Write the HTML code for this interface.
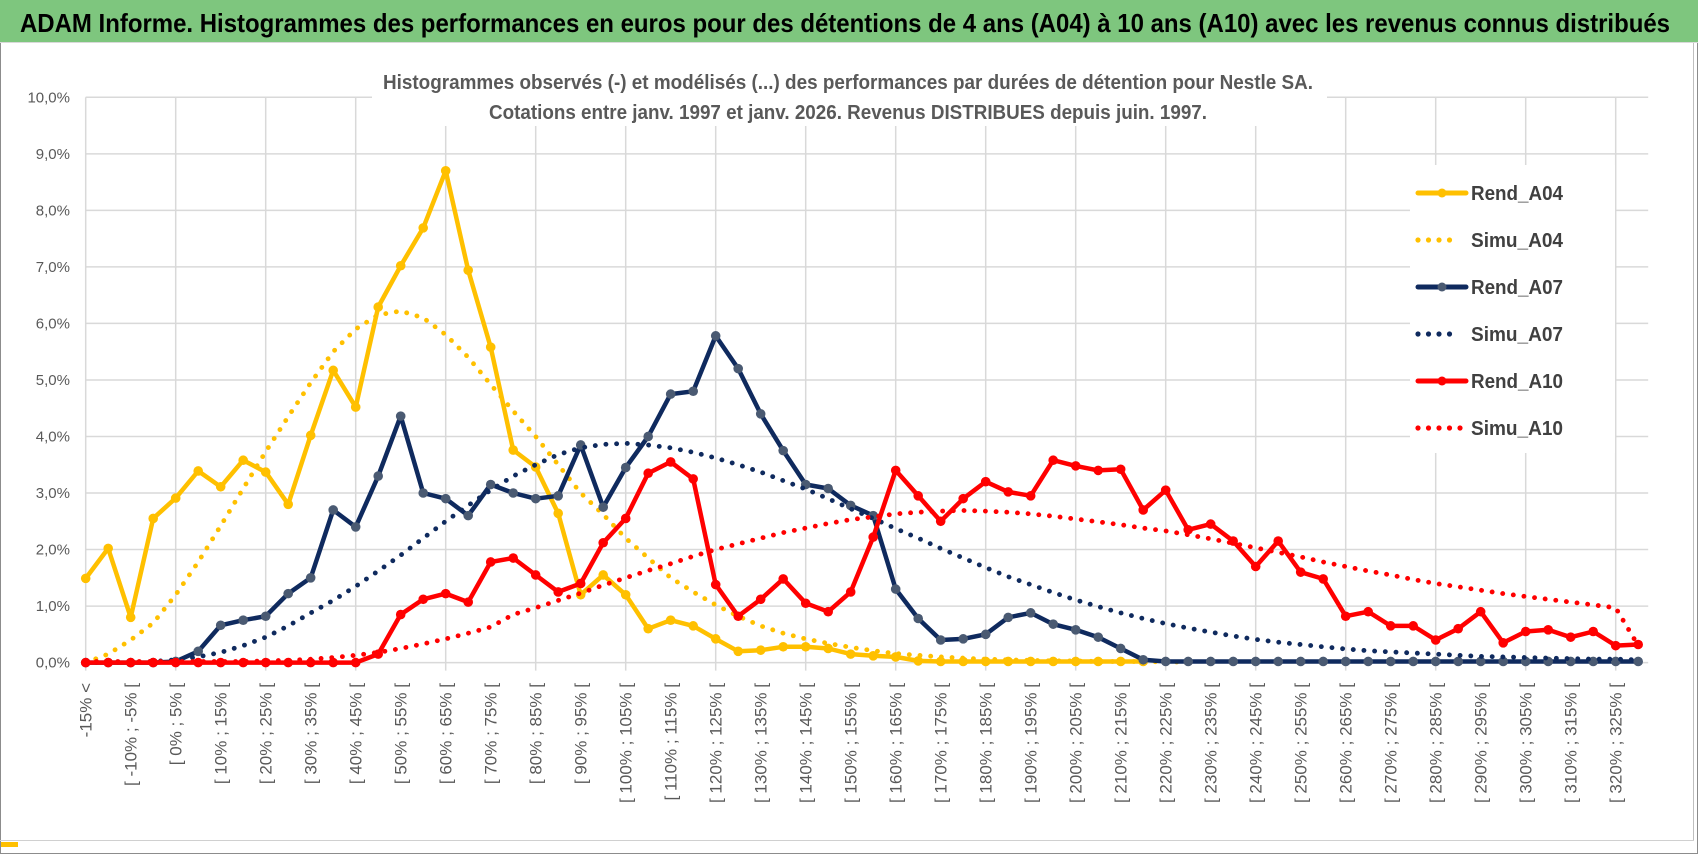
<!DOCTYPE html>
<html><head><meta charset="utf-8">
<style>
html,body{margin:0;padding:0;background:#fff;}
svg{display:block;font-family:"Liberation Sans",sans-serif;}
</style></head>
<body>
<svg id="chart" width="1698" height="854" viewBox="0 0 1698 854" xmlns="http://www.w3.org/2000/svg">
  <rect x="0" y="0" width="1698" height="854" fill="#fff"/>
  <rect x="0.5" y="0.5" width="1697" height="853" fill="none" stroke="#8c8c8c" stroke-width="1"/>
  <rect x="0" y="0" width="1698" height="42" fill="#7ec67e"/>
  <line x1="0" y1="42.5" x2="1698" y2="42.5" stroke="#d9d9d9"/>
  <text x="20" y="32" font-size="26" font-weight="bold" fill="#000" textLength="1650" lengthAdjust="spacingAndGlyphs">ADAM Informe. Histogrammes des performances en euros pour des détentions de 4 ans (A04) à 10 ans (A10) avec les revenus connus distribués</text>
  <line x1="1693.5" y1="43" x2="1693.5" y2="840" stroke="#bfbfbf"/>
  <line x1="0" y1="840.5" x2="1694" y2="840.5" stroke="#d0d0d0"/>
  <rect x="1" y="842" width="17" height="5" fill="#ffc000"/>
  <g id="grid"></g>
  <g id="yaxis"></g>
  <g id="xaxis"></g>
  <rect x="372" y="66" width="955" height="60" fill="#fff"/>
  <text x="848" y="89" font-size="20" font-weight="bold" fill="#595959" text-anchor="middle" textLength="930" lengthAdjust="spacingAndGlyphs">Histogrammes observés (-) et modélisés (...)  des performances par durées de détention pour Nestle SA.</text>
  <text x="848" y="119" font-size="20" font-weight="bold" fill="#595959" text-anchor="middle" textLength="718" lengthAdjust="spacingAndGlyphs">Cotations entre janv. 1997 et janv. 2026. Revenus DISTRIBUES depuis juin. 1997.</text>
  <g id="series"></g>
  <g id="legend"></g>
</svg>
<script>
const categories = ["-15% <"];
for (let a = -15; a < 330; a += 5) categories.push("[ " + a + "% ; " + (a + 5) + "% [");
const yTicks = [0,1,2,3,4,5,6,7,8,9,10];
const yTickLabels = ["0,0%","1,0%","2,0%","3,0%","4,0%","5,0%","6,0%","7,0%","8,0%","9,0%","10,0%"];
const rendA04 = [1.49,2.02,0.80,2.55,2.91,3.39,3.11,3.58,3.37,2.80,4.02,5.17,4.52,6.29,7.02,7.69,8.70,6.94,5.58,3.76,3.46,2.64,1.2,1.55,1.2,0.6,0.75,0.65,0.42,0.2,0.22,0.28,0.28,0.25,0.15,0.12,0.1,0.03,0.02,0.02,0.02,0.02,0.02,0.02,0.02,0.02,0.02,0.02,null,null,null,null,null,null,null,null,null,null,null,null,null,null,null,null,null,null,null,null,null,null];
const simuA04 = [0.0,0.15,0.4,0.7,1.2,1.78,2.42,3.08,3.73,4.35,4.95,5.5,5.9,6.15,6.22,6.1,5.8,5.4,4.92,4.45,4.0,3.5,3.0,2.62,2.2,1.85,1.5,1.25,1.02,0.82,0.65,0.52,0.42,0.34,0.27,0.21,0.16,0.13,0.1,0.08,0.06,0.05,0.04,0.03,0.03,0.02,0.02,0.02,0.01,0.01,null,null,null,null,null,null,null,null,null,null,null,null,null,null,null,null,null,null,null,null];
const rendA07 = [0,0,0,0,0.02,0.2,0.66,0.75,0.82,1.22,1.5,2.7,2.4,3.3,4.36,3.0,2.9,2.6,3.15,3.0,2.9,2.95,3.85,2.75,3.45,4.0,4.75,4.8,5.78,5.2,4.4,3.75,3.15,3.08,2.78,2.6,1.3,0.78,0.4,0.42,0.5,0.8,0.88,0.68,0.58,0.45,0.25,0.05,0.02,0.02,0.02,0.02,0.02,0.02,0.02,0.02,0.02,0.02,0.02,0.02,0.02,0.02,0.02,0.02,0.02,0.02,0.02,0.02,0.02,0.02];
const simuA07 = [0,0,0.01,0.02,0.05,0.1,0.18,0.3,0.45,0.65,0.88,1.1,1.35,1.62,1.9,2.2,2.5,2.78,3.05,3.3,3.5,3.68,3.8,3.86,3.88,3.85,3.8,3.72,3.62,3.5,3.37,3.22,3.07,2.9,2.72,2.55,2.37,2.2,2.02,1.85,1.68,1.52,1.38,1.24,1.11,0.99,0.88,0.78,0.69,0.61,0.54,0.47,0.41,0.36,0.32,0.28,0.24,0.21,0.19,0.17,0.15,0.13,0.11,0.1,0.09,0.08,0.07,0.06,0.06,0.05];
const rendA10 = [0,0,0,0,0,0,0,0,0,0,0,0,0,0.15,0.85,1.12,1.22,1.07,1.78,1.85,1.55,1.25,1.4,2.12,2.55,3.35,3.55,3.25,1.38,0.82,1.12,1.48,1.05,0.9,1.25,2.22,3.4,2.95,2.5,2.9,3.2,3.02,2.95,3.58,3.48,3.4,3.42,2.7,3.05,2.35,2.45,2.15,1.7,2.15,1.6,1.48,0.82,0.9,0.65,0.65,0.4,0.6,0.9,0.35,0.55,0.58,0.45,0.55,0.3,0.32];
const simuA10 = [0.02,0.02,0.02,0.02,0.02,0.02,0.02,0.02,0.03,0.04,0.06,0.09,0.13,0.18,0.25,0.33,0.42,0.52,0.63,0.85,0.97,1.1,1.23,1.37,1.5,1.63,1.75,1.88,2.0,2.1,2.2,2.3,2.38,2.46,2.53,2.58,2.63,2.66,2.68,2.69,2.68,2.66,2.63,2.59,2.54,2.49,2.44,2.38,2.33,2.26,2.19,2.11,2.03,1.95,1.87,1.78,1.7,1.62,1.55,1.47,1.4,1.34,1.28,1.22,1.17,1.12,1.07,1.02,0.97,0.3];

const NS = "http://www.w3.org/2000/svg";
const X0 = 85.7, DX = 22.5, Y0 = 662.6, DY = 56.53;
const xPos = i => X0 + i * DX;
const yPos = v => Y0 - v * DY;
function mk(tag, attrs, parent) {
  const e = document.createElementNS(NS, tag);
  for (const k in attrs) e.setAttribute(k, attrs[k]);
  parent.appendChild(e);
  return e;
}
const grid = document.getElementById('grid');
const yaxis = document.getElementById('yaxis');
const xaxis = document.getElementById('xaxis');
const XR = xPos(categories.length - 1) + 10;
yTicks.forEach((t, k) => {
  const l = mk('line', {x1: X0, x2: XR, y1: yPos(t), y2: yPos(t), stroke: '#d9d9d9', 'stroke-width': 1.5}, grid);
  
  
  const tx = mk('text', {x: 70, y: yPos(t) + 5, 'font-size': 15, fill: '#595959', 'text-anchor': 'end'}, yaxis);
  tx.textContent = yTickLabels[k];
  
  
});
for (let i = 0; i < categories.length; i += 4) {
  const l = mk('line', {x1: xPos(i), x2: xPos(i), y1: yPos(10), y2: Y0 + 8, stroke: '#d9d9d9', 'stroke-width': 1.5}, grid);
  
  
}
for (let i = 0; i < categories.length; i += 2) {
  const tx = mk('text', {x: 0, y: 0, 'font-size': 17, fill: '#595959', 'text-anchor': 'end',
    transform: 'translate(' + (xPos(i) + 6) + ',683) rotate(-90)'}, xaxis);
  tx.textContent = categories[i];
  
  
}
const seriesG = document.getElementById('series');
function pathFor(arr) {
  let d = '', pen = false;
  arr.forEach((v, i) => {
    if (v === null) { pen = false; return; }
    d += (pen ? 'L' : 'M') + xPos(i).toFixed(1) + ',' + yPos(v).toFixed(1);
    pen = true;
  });
  return d;
}
function solid(arr, color, marker, name) {
  const g = mk('g', {}, seriesG);
  
  
  const p = mk('path', {d: pathFor(arr), fill: 'none', stroke: color, 'stroke-width': 4.5, 'stroke-linejoin': 'round'}, g);
  
  
  arr.forEach((v, i) => {
    if (v === null) return;
    const c = mk('circle', {cx: xPos(i), cy: yPos(v), r: 4.8, fill: marker}, g);
    
    
  });
}
function dotted(arr, color, name) {
  const p = mk('path', {d: pathFor(arr), fill: 'none', stroke: color, 'stroke-width': 4.8, 'stroke-linecap': 'round', 'stroke-dasharray': '0.1 10.6'}, seriesG);
  
  
}
solid(rendA04, '#ffc000', '#ffc000', 'rend-a04');
dotted(simuA04, '#ffc000', 'simu-a04');
solid(rendA07, '#0f2a5e', '#4a5a72', 'rend-a07');
dotted(simuA07, '#0f2a5e', 'simu-a07');
solid(rendA10, '#ff0000', '#ff0000', 'rend-a10');
dotted(simuA10, '#ff0000', 'simu-a10');

const legend = document.getElementById('legend');
const bg = mk('rect', {x: 1410, y: 165, width: 205, height: 288, fill: '#fff'}, legend);


const legItems = [
  ['Rend_A04', '#ffc000', '#ffc000', false],
  ['Simu_A04', '#ffc000', null, true],
  ['Rend_A07', '#0f2a5e', '#4a5a72', false],
  ['Simu_A07', '#0f2a5e', null, true],
  ['Rend_A10', '#ff0000', '#ff0000', false],
  ['Simu_A10', '#ff0000', null, true]
];
legItems.forEach((it, k) => {
  const y = 193 + k * 47;
  const g = mk('g', {}, legend);
  
  
  if (it[3]) {
    const n = k === 5 ? 5 : 4;
    for (let j = 0; j < n; j++) {
      const c = mk('circle', {cx: 1418 + j * 10.5, cy: y, r: 2.6, fill: it[1]}, g);
      
      
    }
  } else {
    const l = mk('line', {x1: 1418, x2: 1466, y1: y, y2: y, stroke: it[1], 'stroke-width': 5, 'stroke-linecap': 'round'}, g);
    
    
    const c = mk('circle', {cx: 1442, cy: y, r: 4.5, fill: it[2]}, g);
    
    
  }
  const t = mk('text', {x: 1471, y: y + 7, 'font-size': 20, 'font-weight': 'bold', fill: '#404040', textLength: 92, lengthAdjust: 'spacingAndGlyphs'}, g);
  t.textContent = it[0];
  
  
});
</script>
</body></html>
